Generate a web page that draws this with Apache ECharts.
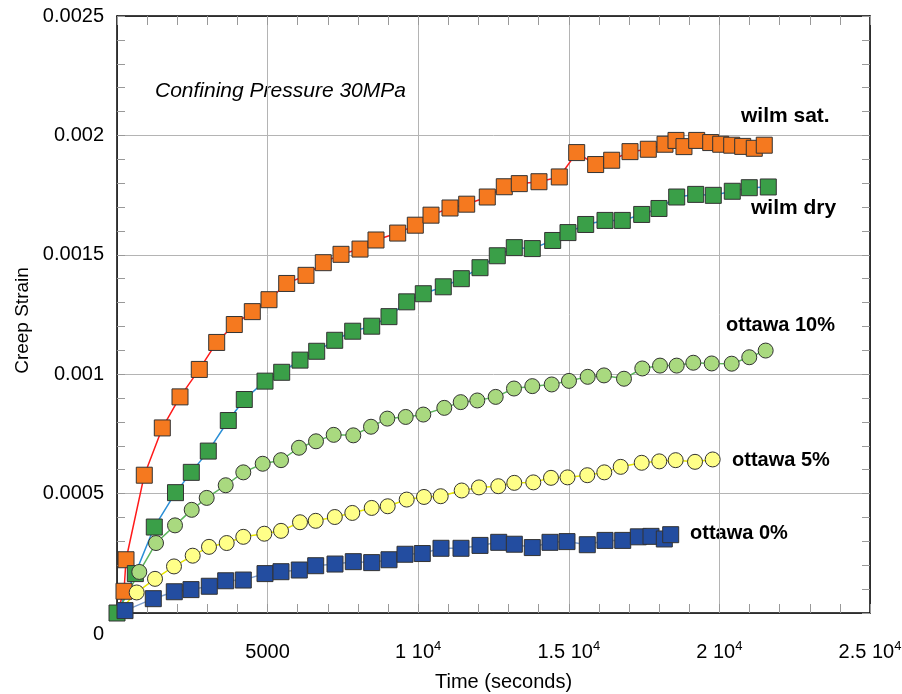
<!DOCTYPE html>
<html>
<head>
<meta charset="utf-8">
<script src="https://cdn.jsdelivr.net/npm/echarts@6/dist/echarts.min.js"></script>
<style>
html,body{margin:0;padding:0;background:#fff;}
#chart{width:902px;height:694px;}
</style>
</head>
<body>
<div id="chart"></div>
<script>
// ---- data (time in seconds, creep strain) ----
const wilmSatTime = [0, 232, 299, 906, 1504, 2092, 2732, 3310, 3894, 4492, 5046, 5634, 6275, 6849, 7437, 8068, 8599, 9319, 9904, 10425, 11056, 11610, 12294, 12858, 13356, 14010, 14684, 15262, 15892, 16424, 17032, 17639, 18194, 18559, 18824, 19246, 19711, 20043, 20408, 20773, 21158, 21490];
const wilmSatStrain = [0, 0.000091, 0.000223, 0.000577, 0.000775, 0.000905, 0.001020, 0.001133, 0.001208, 0.001262, 0.001312, 0.001380, 0.001414, 0.001467, 0.001502, 0.001524, 0.001562, 0.001591, 0.001624, 0.001666, 0.001696, 0.001712, 0.001742, 0.001785, 0.001798, 0.001806, 0.001826, 0.001928, 0.001878, 0.001896, 0.001932, 0.001942, 0.001963, 0.001979, 0.001953, 0.001979, 0.001970, 0.001963, 0.001959, 0.001954, 0.001946, 0.001959];

const wilmDryTime = [0, 608, 1238, 1942, 2467, 3031, 3695, 4226, 4914, 5468, 6076, 6630, 7228, 7825, 8456, 9030, 9618, 10169, 10833, 11431, 12052, 12626, 13190, 13788, 14465, 14973, 15561, 16202, 16776, 17420, 17994, 18582, 19213, 19797, 20428, 20992, 21623];
const wilmDryStrain = [0, 0.000165, 0.000360, 0.000504, 0.000589, 0.000678, 0.000806, 0.000894, 0.000971, 0.001008, 0.001059, 0.001096, 0.001142, 0.001180, 0.001201, 0.001241, 0.001303, 0.001337, 0.001366, 0.001400, 0.001446, 0.001496, 0.001530, 0.001526, 0.001560, 0.001593, 0.001627, 0.001644, 0.001644, 0.001669, 0.001694, 0.001742, 0.001753, 0.001749, 0.001766, 0.001781, 0.001784];

const ottawa10Time = [0, 740, 1295, 1926, 2480, 2978, 3609, 4193, 4837, 5445, 6042, 6607, 7194, 7845, 8433, 8974, 9585, 10169, 10866, 11411, 11962, 12573, 13180, 13788, 14432, 15006, 15627, 16168, 16832, 17440, 18028, 18582, 19133, 19744, 20408, 20992, 21536];
const ottawa10Strain = [0, 0.000172, 0.000293, 0.000367, 0.000432, 0.000482, 0.000535, 0.000589, 0.000625, 0.000640, 0.000692, 0.000719, 0.000746, 0.000744, 0.000780, 0.000814, 0.000821, 0.000831, 0.000859, 0.000883, 0.000890, 0.000905, 0.000940, 0.000950, 0.000957, 0.000972, 0.000989, 0.000995, 0.000981, 0.001024, 0.001036, 0.001036, 0.001048, 0.001045, 0.001044, 0.001071, 0.001099];

const ottawa5Time = [0, 654, 1262, 1892, 2513, 3054, 3642, 4193, 4890, 5445, 6076, 6597, 7231, 7812, 8456, 8987, 9618, 10192, 10747, 11444, 12018, 12659, 13190, 13821, 14409, 14957, 15614, 16178, 16723, 17420, 18004, 18548, 19190, 19777];
const ottawa5Strain = [0, 0.000086, 0.000143, 0.000195, 0.000240, 0.000277, 0.000293, 0.000319, 0.000332, 0.000344, 0.000380, 0.000386, 0.000402, 0.000419, 0.000440, 0.000447, 0.000475, 0.000486, 0.000489, 0.000513, 0.000526, 0.000531, 0.000545, 0.000547, 0.000566, 0.000568, 0.000577, 0.000589, 0.000612, 0.000629, 0.000635, 0.000640, 0.000633, 0.000643];

const ottawa0Time = [266, 1205, 1902, 2457, 3064, 3609, 4193, 4914, 5445, 6052, 6597, 7238, 7845, 8456, 9031, 9562, 10136, 10757, 11421, 12052, 12673, 13191, 13788, 14376, 14940, 15614, 16202, 16790, 17308, 17729, 18171, 18383];
const ottawa0Strain = [0.000010, 0.000060, 0.000089, 0.000098, 0.000112, 0.000135, 0.000138, 0.000165, 0.000173, 0.000180, 0.000198, 0.000205, 0.000215, 0.000211, 0.000223, 0.000246, 0.000249, 0.000271, 0.000271, 0.000283, 0.000296, 0.000288, 0.000274, 0.000296, 0.000299, 0.000286, 0.000304, 0.000304, 0.000319, 0.000321, 0.000310, 0.000328];

const seriesNames = ['wilm sat.', 'wilm dry', 'ottawa 10%', 'ottawa 5%', 'ottawa 0%'];
const xTickValues = [5000, 10000, 15000, 20000, 25000];
const yTickLabels = ['0', '0.0005', '0.001', '0.0015', '0.002', '0.0025'];
const annotationText = 'Confining Pressure 30MPa';

// ---- build ----
const FONT = '"Liberation Sans", Arial, Helvetica, sans-serif';
function pairs(t, s, hideFirstAtOrigin) {
  return t.map((x, i) => {
    if (hideFirstAtOrigin && i === 0 && x === 0 && s[i] === 0) {
      return { value: [x, s[i]], symbol: 'none' };
    }
    return [x, s[i]];
  });
}
function mk(name, t, s, hideOrigin, symbol, size, fill, lineColor) {
  return {
    name: name, type: 'line', data: pairs(t, s, hideOrigin),
    symbol: symbol, symbolSize: size, showAllSymbol: true,
    lineStyle: { color: lineColor, width: 1.5 },
    itemStyle: { color: fill, borderColor: '#333', borderWidth: 1, opacity: 1 },
    emphasis: { disabled: true }, animation: false
  };
}

const chart = echarts.init(document.getElementById('chart'), null, { renderer: 'canvas' });
const tickStyle = { color: '#999', width: 1 };
const option = {
  backgroundColor: '#fff',
  animation: false,
  grid: { left: 117, right: 32, top: 16, bottom: 81, containLabel: false, outerBoundsMode: 'none' },
  xAxis: [
    {
      type: 'value', min: 0, max: 25000, interval: 5000, position: 'bottom',
      name: 'Time (seconds)', nameLocation: 'middle', nameGap: 59,
      nameTextStyle: { fontSize: 20, color: '#000', fontFamily: FONT, padding: [0, 0, 0, 20] },
      axisLine: { show: true, onZero: false, lineStyle: { color: '#000', width: 1.5 } },
      axisTick: { show: true, inside: true, length: 9, lineStyle: tickStyle },
      minorTick: { show: true, splitNumber: 5, length: 9, lineStyle: tickStyle },
      splitLine: { show: true, lineStyle: { color: '#b4b4b4', width: 1 } },
      axisLabel: {
        margin: 27, color: '#000', fontFamily: FONT, fontSize: 20,
        formatter: function (v) {
          if (xTickValues.indexOf(v) < 0) return '';
          if (v < 10000) return '{n|' + v + '}';
          return '{n|' + (v / 10000) + ' 10}{s|4}';
        },
        rich: {
          n: { fontSize: 20, lineHeight: 25, fontFamily: FONT, color: '#000' },
          s: { fontSize: 13, lineHeight: 13, verticalAlign: 'top', fontFamily: FONT, color: '#000' }
        }
      }
    },
    {
      type: 'value', min: 0, max: 25000, interval: 5000, position: 'top',
      axisLine: { show: true, onZero: false, lineStyle: { color: '#000', width: 1.5 } },
      axisTick: { show: true, inside: true, length: 9, lineStyle: tickStyle },
      minorTick: { show: true, splitNumber: 5, length: 9, lineStyle: tickStyle },
      splitLine: { show: false }, axisLabel: { show: false }
    }
  ],
  yAxis: [
    {
      type: 'value', min: 0, max: 0.0025, interval: 0.0005, position: 'left',
      name: 'Creep Strain', nameLocation: 'middle', nameGap: 84,
      nameTextStyle: { fontSize: 19, color: '#000', fontFamily: FONT, padding: [0, 12, 0, 0] },
      axisLine: { show: true, onZero: false, lineStyle: { color: '#000', width: 1.5 } },
      axisTick: { show: true, inside: true, length: 8, lineStyle: tickStyle },
      minorTick: { show: true, splitNumber: 5, length: 8, lineStyle: tickStyle },
      splitLine: { show: true, lineStyle: { color: '#b4b4b4', width: 1 } },
      axisLabel: {
        margin: 13, color: '#000', fontFamily: FONT, fontSize: 20,
        formatter: function (v) {
          const idx = Math.round(v / 0.0005);
          const lbl = yTickLabels[idx];
          if (idx === 0) return '{z|' + lbl + '}';
          return lbl;
        },
        rich: { z: { fontSize: 20, fontFamily: FONT, color: '#000', padding: [42, 0, 0, 0] } }
      }
    },
    {
      type: 'value', min: 0, max: 0.0025, interval: 0.0005, position: 'right',
      axisLine: { show: true, onZero: false, lineStyle: { color: '#000', width: 1.5 } },
      axisTick: { show: true, inside: true, length: 8, lineStyle: tickStyle },
      minorTick: { show: true, splitNumber: 5, length: 8, lineStyle: tickStyle },
      splitLine: { show: false }, axisLabel: { show: false }
    }
  ],
  series: [
    mk(seriesNames[0], wilmSatTime, wilmSatStrain, true, 'rect', 16, '#F5791F', '#FF1A1A'),
    mk(seriesNames[1], wilmDryTime, wilmDryStrain, false, 'rect', 16, '#3A9F48', '#2B8FD6'),
    mk(seriesNames[2], ottawa10Time, ottawa10Strain, true, 'circle', 15, '#A9D97F', '#5DB55D'),
    mk(seriesNames[3], ottawa5Time, ottawa5Strain, true, 'circle', 15, '#FFFF88', '#E6E600'),
    mk(seriesNames[4], ottawa0Time, ottawa0Strain, false, 'rect', 16, '#234DA0', '#7F9FCF')
  ],
  graphic: [
    { type: 'text', left: 155, top: 81, style: { text: annotationText, font: 'italic 21px ' + FONT, fill: '#000' } },
    { type: 'text', left: 741, top: 106, style: { text: seriesNames[0], font: 'bold 21px ' + FONT, fill: '#000' } },
    { type: 'text', left: 751, top: 198, style: { text: seriesNames[1], font: 'bold 21px ' + FONT, fill: '#000' } },
    { type: 'text', left: 726, top: 315, style: { text: seriesNames[2], font: 'bold 20px ' + FONT, fill: '#000' } },
    { type: 'text', left: 732, top: 450, style: { text: seriesNames[3], font: 'bold 20px ' + FONT, fill: '#000' } },
    { type: 'text', left: 690, top: 523, style: { text: seriesNames[4], font: 'bold 20px ' + FONT, fill: '#000' } }
  ]
};
chart.setOption(option);
</script>
</body>
</html>
